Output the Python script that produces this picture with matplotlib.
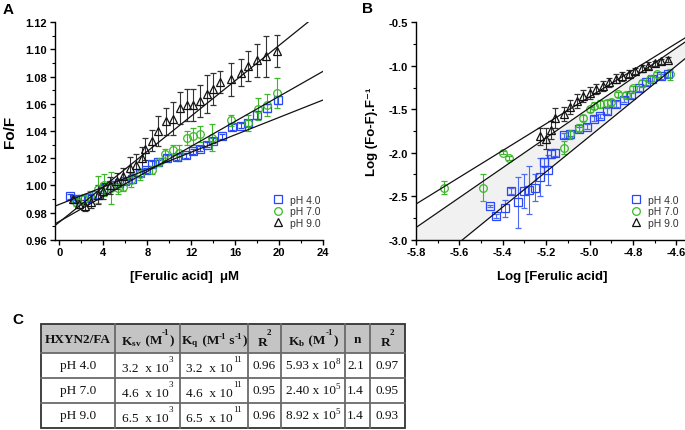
import numpy as np
import matplotlib.pyplot as plt
from matplotlib.ticker import MultipleLocator
from matplotlib.lines import Line2D
from matplotlib.patches import Rectangle

plt.rcParams['font.family'] = ['Liberation Sans', 'DejaVu Sans']
plt.rcParams['mathtext.fontset'] = 'custom'
plt.rcParams['mathtext.rm'] = 'Liberation Serif'
plt.rcParams['mathtext.bf'] = 'Liberation Serif:bold'
plt.rcParams['mathtext.it'] = 'Liberation Serif:italic'

# ---- Panel A: Stern-Volmer data (Fo/F vs [ferulic acid], uM)
a_x_ph4 = [1.0, 1.4, 2.0, 2.6, 3.3, 4.0, 4.7, 5.4, 6.0, 6.6, 7.3, 7.9, 8.4, 9.0,
           9.8, 10.7, 11.5, 12.2, 12.8, 13.4, 14.0, 14.8, 15.7, 16.5, 17.2, 18.0, 18.9, 19.9]
a_y_ph4 = [0.992, 0.990, 0.990, 0.991, 0.993, 0.997, 1.000, 1.002, 1.003, 1.005, 1.009, 1.011,
           1.016, 1.017, 1.020, 1.021, 1.022, 1.025, 1.027, 1.030, 1.033, 1.036, 1.043, 1.044,
           1.046, 1.052, 1.057, 1.063]
a_e_ph4 = [0.002, 0.002, 0.003, 0.003, 0.003, 0.004, 0.003, 0.002, 0.002, 0.003, 0.002, 0.002,
           0.002, 0.002, 0.002, 0.002, 0.002, 0.002, 0.002, 0.002, 0.002, 0.002, 0.002, 0.002,
           0.002, 0.003, 0.003, 0.003]

a_x_ph7 = [1.5, 2.2, 2.8, 3.5, 4.1, 4.7, 5.3, 5.8, 6.5, 7.3, 8.4, 9.1, 9.6, 10.3, 10.9,
           11.6, 12.2, 12.8, 13.9, 15.6, 17.2, 18.1, 18.9, 19.8]
a_y_ph7 = [0.988, 0.990, 0.992, 0.997, 1.000, 0.998, 0.998, 0.999, 1.004, 1.008, 1.011, 1.017,
           1.023, 1.026, 1.024, 1.035, 1.036, 1.038, 1.035, 1.048, 1.046, 1.056, 1.059, 1.068]
a_e_ph7 = [0.003, 0.004, 0.004, 0.010, 0.008, 0.012, 0.004, 0.003, 0.005, 0.004, 0.003, 0.003,
           0.004, 0.004, 0.006, 0.005, 0.006, 0.006, 0.010, 0.004, 0.006, 0.008, 0.008, 0.011]

a_x_ph9 = [1.2, 1.8, 2.3, 2.9, 3.5, 4.0, 4.6, 5.2, 5.8, 6.4, 7.0, 7.5, 7.8, 8.4, 9.0, 9.7,
           10.3, 11.0, 11.6, 12.2, 12.8, 13.4, 14.0, 14.6, 15.6, 16.5, 17.2, 18.0, 18.8, 19.8]
a_y_ph9 = [0.990, 0.986, 0.985, 0.988, 0.993, 0.996, 1.000, 1.003, 1.007, 1.013, 1.015, 1.020,
           1.027, 1.033, 1.040, 1.047, 1.049, 1.057, 1.059, 1.059, 1.062, 1.067, 1.071, 1.076,
           1.078, 1.083, 1.088, 1.092, 1.095, 1.099]
a_e_ph9 = [0.003, 0.003, 0.004, 0.005, 0.007, 0.006, 0.006, 0.006, 0.006, 0.008, 0.008, 0.008,
           0.008, 0.008, 0.011, 0.010, 0.012, 0.012, 0.012, 0.012, 0.012, 0.014, 0.012, 0.008,
           0.012, 0.010, 0.011, 0.012, 0.015, 0.012]

# linear fits (slope per uM, intercept)
a_fit_slope = [0.0032, 0.0046, 0.0065]
a_fit_icpt = [0.986, 0.9735, 0.973]

# ---- Panel B: double-log data
b_x_ph4 = [-5.46, -5.43, -5.39, -5.36, -5.33, -5.30, -5.28, -5.25, -5.23, -5.21, -5.19, -5.18,
           -5.16, -5.12, -5.09, -5.05, -5.01, -4.98, -4.95, -4.92, -4.88, -4.84, -4.81, -4.77,
           -4.74, -4.71, -4.67, -4.64]
b_y_ph4 = [-2.61, -2.73, -2.64, -2.44, -2.57, -2.44, -2.43, -2.40, -2.28, -2.11, -2.20, -2.01,
           -2.00, -1.80, -1.78, -1.73, -1.70, -1.61, -1.58, -1.52, -1.44, -1.39, -1.34, -1.26,
           -1.19, -1.15, -1.12, -1.10]
b_e_ph4 = [0.01, 0.02, 0.10, 0.03, 0.29, 0.20, 0.28, 0.15, 0.22, 0.05, 0.17, 0.05,
           0.04, 0.03, 0.03, 0.03, 0.03, 0.03, 0.02, 0.03, 0.03, 0.03, 0.03, 0.03,
           0.03, 0.03, 0.03, 0.03]

b_x_ph7 = [-5.67, -5.49, -5.40, -5.37, -5.12, -5.09, -5.05, -5.03, -5.00, -4.98, -4.95, -4.92,
           -4.90, -4.87, -4.83, -4.80, -4.76, -4.72, -4.69, -4.63]
b_y_ph7 = [-2.40, -2.40, -2.00, -2.06, -1.94, -1.79, -1.71, -1.60, -1.50, -1.46, -1.44, -1.43,
           -1.42, -1.33, -1.34, -1.26, -1.20, -1.15, -1.10, -1.10]
b_e_ph7 = [0.08, 0.15, 0.02, 0.02, 0.08, 0.05, 0.04, 0.03, 0.03, 0.04, 0.05, 0.04,
           0.04, 0.03, 0.04, 0.03, 0.04, 0.03, 0.03, 0.06]

b_x_ph9 = [-5.23, -5.20, -5.18, -5.16, -5.12, -5.09, -5.06, -5.03, -5.00, -4.97, -4.94, -4.91,
           -4.88, -4.85, -4.82, -4.79, -4.76, -4.73, -4.70, -4.67, -4.64]
b_y_ph9 = [-1.81, -1.84, -1.74, -1.60, -1.55, -1.47, -1.40, -1.35, -1.31, -1.27, -1.23, -1.19,
           -1.15, -1.12, -1.09, -1.06, -1.03, -1.00, -0.97, -0.95, -0.93]
b_e_ph9 = [0.10, 0.12, 0.10, 0.12, 0.08, 0.08, 0.08, 0.07, 0.07, 0.06, 0.06, 0.05,
           0.05, 0.05, 0.04, 0.04, 0.04, 0.04, 0.03, 0.03, 0.03]

# fitted lines (slope, intercept) upper, middle, steep
b_fit_slope = [1.54, 1.72, 2.03]
b_fit_icpt = [6.342, 7.116, 8.338]

# ---- Panel C table
row_names = ['pH 4.0', 'pH 7.0', 'pH 9.0']
ksv_mant = ['3.2', '4.6', '6.5']
ksv_exp = ['3', '3', '3']
kq_mant = ['3.2', '4.6', '6.5']
kq_exp = ['11', '11', '11']
r2_sv = ['0.96', '0.95', '0.96']
kb_mant = ['5.93', '2.40', '8.92']
kb_exp = ['8', '5', '5']
n_vals = ['2.1', '1.4', '1.4']
r2_b = ['0.97', '0.95', '0.93']

labels = ['pH 4.0', 'pH 7.0', 'pH 9.0']
colors = ['#2a48f5', '#3db82a', '#111111']
markers = ['s', 'o', '^']

fig = plt.figure(figsize=(6.85, 4.31), dpi=100)
W, H = 685, 431

def px_axes(l, r, t, b):
    return fig.add_axes([l / W, 1 - b / H, (r - l) / W, (b - t) / H])

axA = px_axes(55, 323, 23.3, 240.7)
axB = px_axes(416, 685, 23.3, 240.7)

def style(ax):
    for s in ['top', 'right']:
        ax.spines[s].set_visible(False)
    for s in ['left', 'bottom']:
        ax.spines[s].set_linewidth(1.0)
    ax.tick_params(which='major', direction='out', length=3.5, width=1, pad=2)
    ax.tick_params(which='minor', direction='out', length=2, width=0.8)
    for lab in ax.get_xticklabels() + ax.get_yticklabels():
        lab.set_fontsize(8)
        lab.set_fontweight('bold')

def eb(ax, x, y, e, c, m, ecolor=None):
    ax.errorbar(x, y, yerr=e, fmt=m, mfc='none', mec=c, ms=5.5, mew=0.9,
                ecolor=ecolor or c, elinewidth=0.8, capsize=2, capthick=0.8, zorder=3)

# Panel A
xs = np.array([-0.4, 24])
for sl, ic in zip(a_fit_slope, a_fit_icpt):
    axA.plot(xs, ic + sl * xs, color='#111111', lw=0.9, zorder=4)
eb(axA, a_x_ph4, a_y_ph4, a_e_ph4, colors[0], markers[0])
eb(axA, a_x_ph7, a_y_ph7, a_e_ph7, colors[1], markers[1])
eb(axA, a_x_ph9, a_y_ph9, a_e_ph9, colors[2], markers[2], ecolor='#333333')
axA.set_xlim(-0.4, 24)
axA.set_ylim(0.96, 1.12)
axA.xaxis.set_major_locator(MultipleLocator(4))
axA.xaxis.set_minor_locator(MultipleLocator(2))
axA.yaxis.set_major_locator(MultipleLocator(0.02))
axA.yaxis.set_minor_locator(MultipleLocator(0.01))
axA.yaxis.set_major_formatter(plt.FormatStrFormatter('%.2f'))
style(axA)
axA.set_ylabel('Fo/F', fontsize=11, fontweight='bold')
axA.yaxis.set_label_coords(-0.14, 0.5)
axA.set_xlabel('[Ferulic acid]  \u03bcM', fontsize=9.5, fontweight='bold')
axA.xaxis.set_label_coords(0.483, -0.14)

# Panel B
xb = np.linspace(-5.8, -4.56, 50)
lines_b = [ic + sl * xb for sl, ic in zip(b_fit_slope, b_fit_icpt)]
axB.fill_between(xb, np.maximum(lines_b[2], -3.0), lines_b[1],
                 where=lines_b[1] > lines_b[2], color='#f1f1f1', lw=0, zorder=1)
for yl in lines_b:
    axB.plot(xb, yl, color='#111111', lw=0.9, zorder=4)
eb(axB, b_x_ph4, b_y_ph4, b_e_ph4, colors[0], markers[0], ecolor='#4d6af5')
eb(axB, b_x_ph7, b_y_ph7, b_e_ph7, colors[1], markers[1])
eb(axB, b_x_ph9, b_y_ph9, b_e_ph9, colors[2], markers[2], ecolor='#333333')
axB.set_xlim(-5.8, -4.56)
axB.set_ylim(-3.0, -0.5)
axB.xaxis.set_major_locator(MultipleLocator(0.2))
axB.xaxis.set_minor_locator(MultipleLocator(0.1))
axB.yaxis.set_major_locator(MultipleLocator(0.5))
axB.yaxis.set_minor_locator(MultipleLocator(0.25))
axB.xaxis.set_major_formatter(plt.FormatStrFormatter('%.1f'))
axB.yaxis.set_major_formatter(plt.FormatStrFormatter('%.1f'))
style(axB)
axB.set_ylabel('Log (Fo-F).F\u207b\u00b9', fontsize=9.5, fontweight='bold')
axB.yaxis.set_label_coords(-0.143, 0.5)
axB.set_xlabel('Log [Ferulic acid]', fontsize=9.5, fontweight='bold')
axB.xaxis.set_label_coords(0.506, -0.14)

handles = [Line2D([], [], ls='none', marker=m, mfc='none', mec=c, ms=5.5, mew=0.9)
           for m, c in zip(markers, colors)]
for ax, bx in [(axA, 0.99), (axB, 0.975)]:
    leg = ax.legend(handles, labels, loc='lower right', bbox_to_anchor=(bx, 0.055),
                    frameon=False, fontsize=7.5, handlelength=1.0, handletextpad=0.6,
                    labelspacing=0.15, borderpad=0, borderaxespad=0)
    for t in leg.get_texts():
        t.set_color('#333333')

# overlay in pixel coordinates for panel letters and table
ov = fig.add_axes([0, 0, 1, 1])
ov.set_xlim(0, W)
ov.set_ylim(H, 0)
ov.axis('off')
ov.patch.set_visible(False)

ov.text(3, 3, 'A', fontsize=11, fontweight='bold', va='top', ha='left')
ov.text(362, 2, 'B', fontsize=11, fontweight='bold', va='top', ha='left')
ov.text(12, 313, 'C', fontsize=11, fontweight='bold', va='top', ha='left')

# table geometry (pixels)
col_edges = [41, 115, 180, 248, 281, 345, 370, 405]
row_edges = [325, 354, 379, 404, 429]
ov.add_patch(Rectangle((col_edges[0], row_edges[0]), col_edges[-1] - col_edges[0],
                       row_edges[1] - row_edges[0], facecolor='#c4c4c4', edgecolor='none'))
for xv in col_edges[1:-1]:
    ov.plot([xv, xv], [row_edges[0], row_edges[-1]], color='#6a6a6a', lw=1.3)
for yv in row_edges[1:-1]:
    ov.plot([col_edges[0], col_edges[-1]], [yv, yv], color='#6a6a6a', lw=1.3)
ov.add_patch(Rectangle((col_edges[0], row_edges[0]), col_edges[-1] - col_edges[0],
                       row_edges[-1] - row_edges[0], facecolor='none', edgecolor='#333333', lw=1.3))

renderer = fig.canvas.get_renderer()
BIG, SMALL = 9.5, 6.5

def chain(xc, y, pieces):
    """Lay text pieces left to right, centred on xc. piece = (text, dy, size, weight)."""
    texts = []
    for s, dy, size, weight in pieces:
        t = ov.text(0, y + dy, s, ha='left', va='center', fontsize=size,
                    fontweight=weight, family='Liberation Serif', color='#111111')
        texts.append(t)
    widths = [t.get_window_extent(renderer).width for t in texts]
    x = xc - sum(widths) / 2
    for t, w in zip(texts, widths):
        t.set_x(x)
        x += w

cx = [(col_edges[i] + col_edges[i + 1]) / 2 for i in range(7)]
hy = (row_edges[0] + row_edges[1]) / 2 + 1

chain(cx[0], hy, [('HXYN2/FA', 0, BIG, 'bold')])
chain(cx[1], hy, [(r'$\mathbf{K_{sv}}$', 2, BIG, 'bold'), (' (M', 1, BIG, 'bold'),
                  ('-1', -7, SMALL, 'bold'), (')', 1, BIG, 'bold')])
chain(cx[2], hy, [(r'$\mathbf{K_{q}}$', 2, BIG, 'bold'), (' (M', 1, BIG, 'bold'),
                  ('-1', -3, SMALL, 'bold'), (' s', 1, BIG, 'bold'),
                  ('-1', -3, SMALL, 'bold'), (')', 1, BIG, 'bold')])
chain(cx[3], hy, [('R', 3, BIG, 'bold'), ('2', -7, SMALL, 'bold')])
chain(cx[4], hy, [(r'$\mathbf{K_{b}}$', 2, BIG, 'bold'), (' (M', 1, BIG, 'bold'),
                  ('-1', -7, SMALL, 'bold'), (')', 1, BIG, 'bold')])
chain(cx[5], hy, [('n', 0, BIG, 'bold')])
chain(cx[6], hy, [('R', 3, BIG, 'bold'), ('2', -7, SMALL, 'bold')])

for i in range(3):
    ry = (row_edges[i + 1] + row_edges[i + 2]) / 2
    chain(cx[0], ry, [(row_names[i], 0, BIG, 'normal')])
    chain(cx[1], ry, [(ksv_mant[i] + '  x 10', 3, BIG, 'normal'), (ksv_exp[i], -6, SMALL, 'normal')])
    chain(cx[2], ry, [(kq_mant[i] + '  x 10', 3, BIG, 'normal'), (kq_exp[i], -6, SMALL, 'normal')])
    chain(cx[3], ry, [(r2_sv[i], 0, BIG, 'normal')])
    chain(cx[4], ry, [(kb_mant[i] + ' x 10', 0, BIG, 'normal'), (kb_exp[i], -4, SMALL, 'normal')])
    ov.text(347, ry, n_vals[i], ha='left', va='center', family='Liberation Serif',
            fontsize=BIG, color='#111111')
    chain(cx[6], ry, [(r2_b[i], 0, BIG, 'normal')])

fig.savefig('out.png', dpi=100)
